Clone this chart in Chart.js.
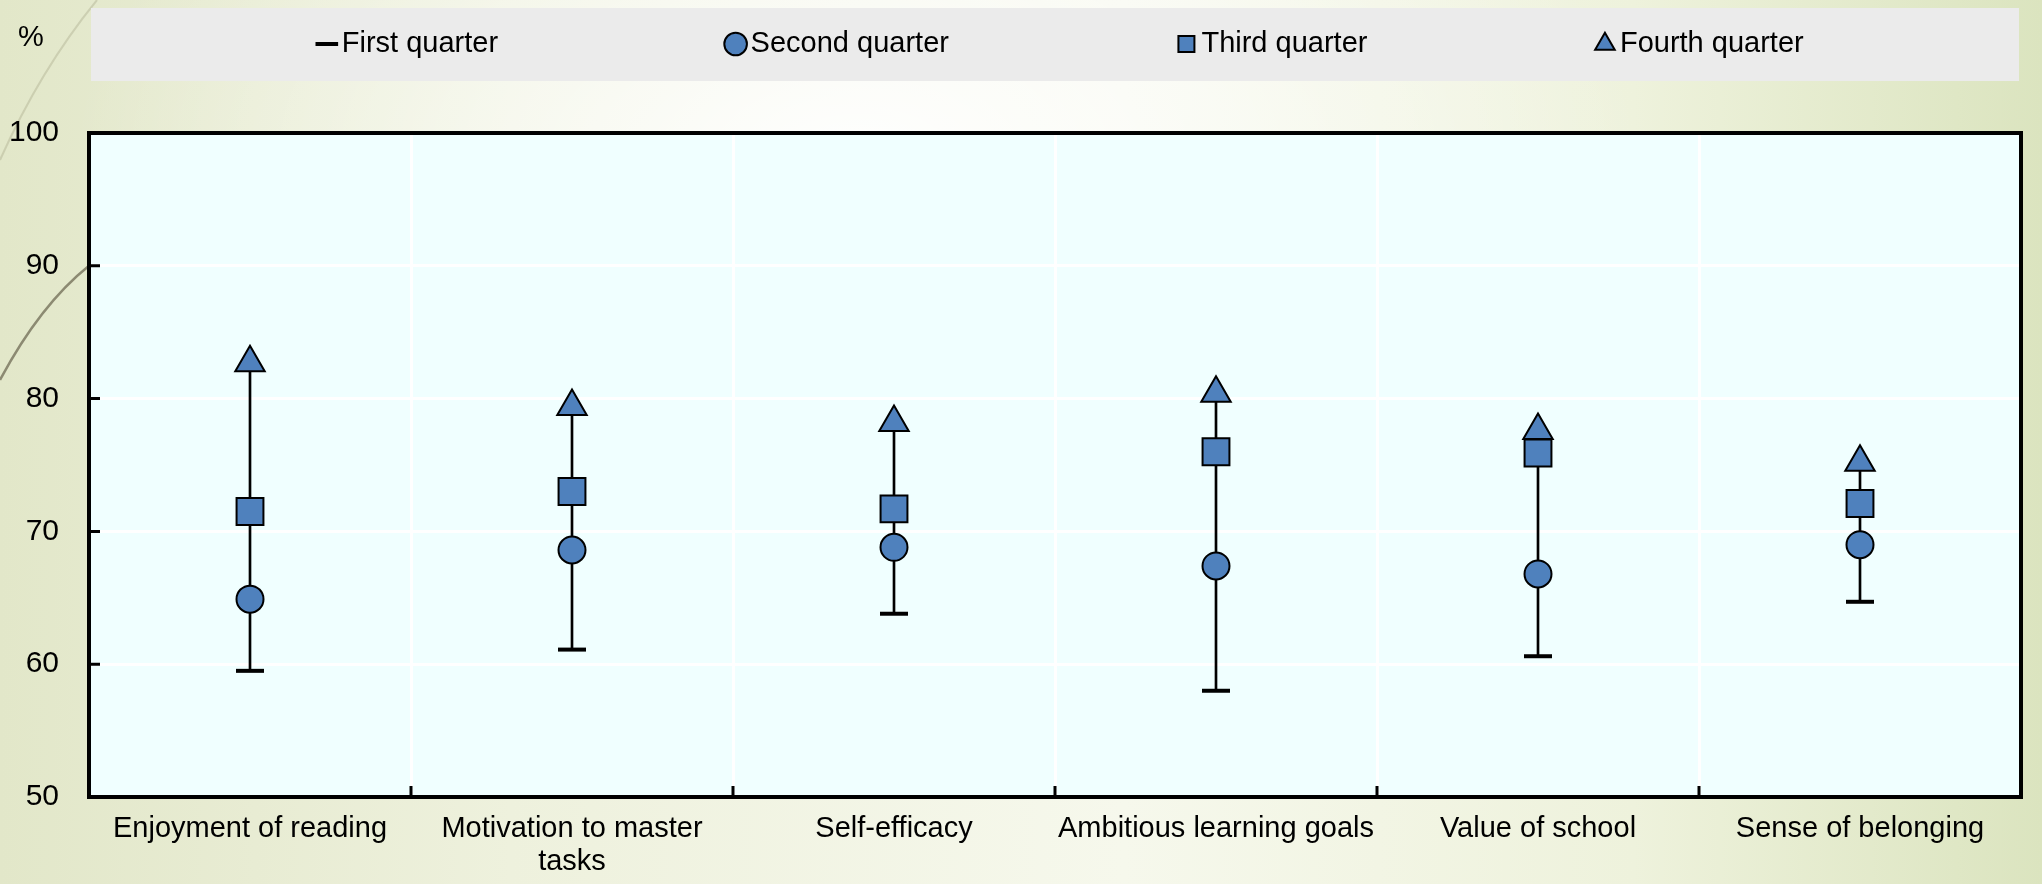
<!DOCTYPE html>
<html>
<head>
<meta charset="utf-8">
<script src="https://cdn.jsdelivr.net/npm/chart.js@4.4.1/dist/chart.umd.min.js"></script>
<style>
	html, body { margin: 0; padding: 0; }
	body {
		width: 2042px; height: 884px; overflow: hidden;
		background:
			radial-gradient(ellipse 55% 70% at 42% 18%, rgba(255,255,255,0.95), rgba(255,255,255,0) 70%),
			linear-gradient(to right, #e2e7c9 0%, #eef1dd 25%, #f6f8ec 55%, #eef2dc 80%, #dbe4bf 100%);
	}
	canvas { display: block; }
</style>
</head>
<body>
<canvas id="myChart" width="2042" height="884"></canvas>
<script>
const categories = ['Enjoyment of reading', ['Motivation to master', 'tasks'], 'Self-efficacy', 'Ambitious learning goals', 'Value of school', 'Sense of belonging']
const firstQuarter = [59.5, 61.1, 63.8, 58.0, 60.6, 64.7]
const secondQuarter = [64.9, 68.6, 68.8, 67.4, 66.8, 69.0]
const thirdQuarter = [71.5, 73.0, 71.7, 76.0, 75.9, 72.1]
const fourthQuarter = [82.7, 79.4, 78.2, 80.4, 77.6, 75.2]
const yTicks = [50, 60, 70, 80, 90, 100]

const FONT = '"Liberation Sans", Arial, sans-serif'
const BLUE = '#4f81bd'
const LEGEND_GAP = 237

// range line between first and fourth quarter
const ranges = firstQuarter.map((v, i) => [v, fourthQuarter[i]])

const decor = {
	id: 'decor',
	beforeDraw(chart) {
		const {ctx, chartArea: a} = chart
		ctx.save()
		// background swooshes
		ctx.strokeStyle = 'rgba(160,160,130,0.35)'
		ctx.lineWidth = 2
		ctx.beginPath()
		ctx.moveTo(97, 0)
		ctx.quadraticCurveTo(40, 70, 0, 160)
		ctx.stroke()
		ctx.strokeStyle = '#8c8a72'
		ctx.lineWidth = 2.5
		ctx.beginPath()
		ctx.moveTo(a.left, chart.scales.y.getPixelForValue(90))
		ctx.quadraticCurveTo(40, 305, 0, 380)
		ctx.stroke()
		// legend band
		ctx.fillStyle = '#ebebeb'
		ctx.fillRect(91, 8, 1928, 73)
		// plot background
		ctx.fillStyle = '#f0ffff'
		ctx.fillRect(a.left, a.top, a.right - a.left, a.bottom - a.top)
		// unit label
		ctx.fillStyle = '#000'
		ctx.font = '29px ' + FONT
		ctx.textAlign = 'center'
		ctx.textBaseline = 'middle'
		ctx.fillText('%', 31, 38)
		ctx.restore()
	},
	afterLayout(chart) {
		const lg = chart.legend
		lg.top = 44 - 14.5 - LEGEND_GAP
		lg.left += 48
		lg.right += 48
	},
	afterDraw(chart) {
		const {ctx, chartArea: a, scales} = chart
		ctx.save()
		ctx.strokeStyle = '#000'
		ctx.lineWidth = 3
		ctx.beginPath()
		for (const v of yTicks) {
			const py = scales.y.getPixelForValue(v)
			ctx.moveTo(a.left, py)
			ctx.lineTo(a.left + 11, py)
		}
		for (let i = 0; i < categories.length - 1; i++) {
			const px = (scales.x.getPixelForValue(i) + scales.x.getPixelForValue(i + 1)) / 2
			ctx.moveTo(px, a.bottom)
			ctx.lineTo(px, a.bottom - 11)
		}
		ctx.stroke()
		ctx.lineWidth = 4
		ctx.strokeRect(a.left, a.top, a.right - a.left, a.bottom - a.top)
		ctx.restore()
	}
}

const config = {
	type: 'bar',
	data: {
		labels: categories,
		datasets: [
			{
				type: 'line', label: 'First quarter', data: firstQuarter, showLine: false,
				pointStyle: 'line', pointRadius: 14, pointBorderWidth: 4,
				pointBorderColor: '#000', pointBackgroundColor: '#000', borderColor: '#000', backgroundColor: '#000'
			},
			{
				type: 'line', label: 'Second quarter', data: secondQuarter, showLine: false,
				pointStyle: 'circle', pointRadius: 13.5, pointBorderWidth: 2,
				pointBorderColor: '#000', pointBackgroundColor: BLUE, borderColor: '#000', backgroundColor: BLUE
			},
			{
				type: 'line', label: 'Third quarter', data: thirdQuarter, showLine: false,
				pointStyle: 'rect', pointRadius: 19, pointBorderWidth: 2,
				pointBorderColor: '#000', pointBackgroundColor: BLUE, borderColor: '#000', backgroundColor: BLUE
			},
			{
				type: 'line', label: 'Fourth quarter', data: fourthQuarter, showLine: false,
				pointStyle: 'triangle', pointRadius: 17, pointBorderWidth: 2,
				pointBorderColor: '#000', pointBackgroundColor: BLUE, borderColor: '#000', backgroundColor: BLUE
			},
			{
				type: 'bar', label: 'range', data: ranges, order: 10,
				backgroundColor: '#000', borderWidth: 0, barThickness: 2
			}
		]
	},
	options: {
		responsive: false,
		animation: false,
		events: [],
		devicePixelRatio: 1,
		layout: { padding: { top: 0, left: 0, right: 8, bottom: 0 } },
		plugins: {
			tooltip: { enabled: false },
			legend: {
				position: 'top',
				maxHeight: 133,
				labels: {
					usePointStyle: true,
					boxWidth: 1,
					boxHeight: 16,
					padding: LEGEND_GAP,
					color: '#000',
					font: { family: FONT, size: 29 },
					filter: item => item.datasetIndex < 4
				}
			}
		},
		scales: {
			x: {
				afterFit(s) { s.height = 87 },
				ticks: { padding: 15, color: '#000', maxRotation: 0, autoSkip: false, font: { family: FONT, size: 29, lineHeight: 1.15 } },
				grid: { color: '#ffffff', lineWidth: 3, drawTicks: false, offset: true },
				border: { display: false }
			},
			y: {
				min: 50,
				max: 100,
				afterFit(s) { s.width = 89 },
				afterBuildTicks(s) { s.ticks = yTicks.map(v => ({ value: v })) },
				ticks: { padding: 30, color: '#000', font: { family: FONT, size: 30 } },
				grid: { color: '#ffffff', lineWidth: 3, drawTicks: false },
				border: { display: false }
			}
		}
	},
	plugins: [decor]
}

new Chart(document.getElementById('myChart'), config)
</script>
</body>
</html>
